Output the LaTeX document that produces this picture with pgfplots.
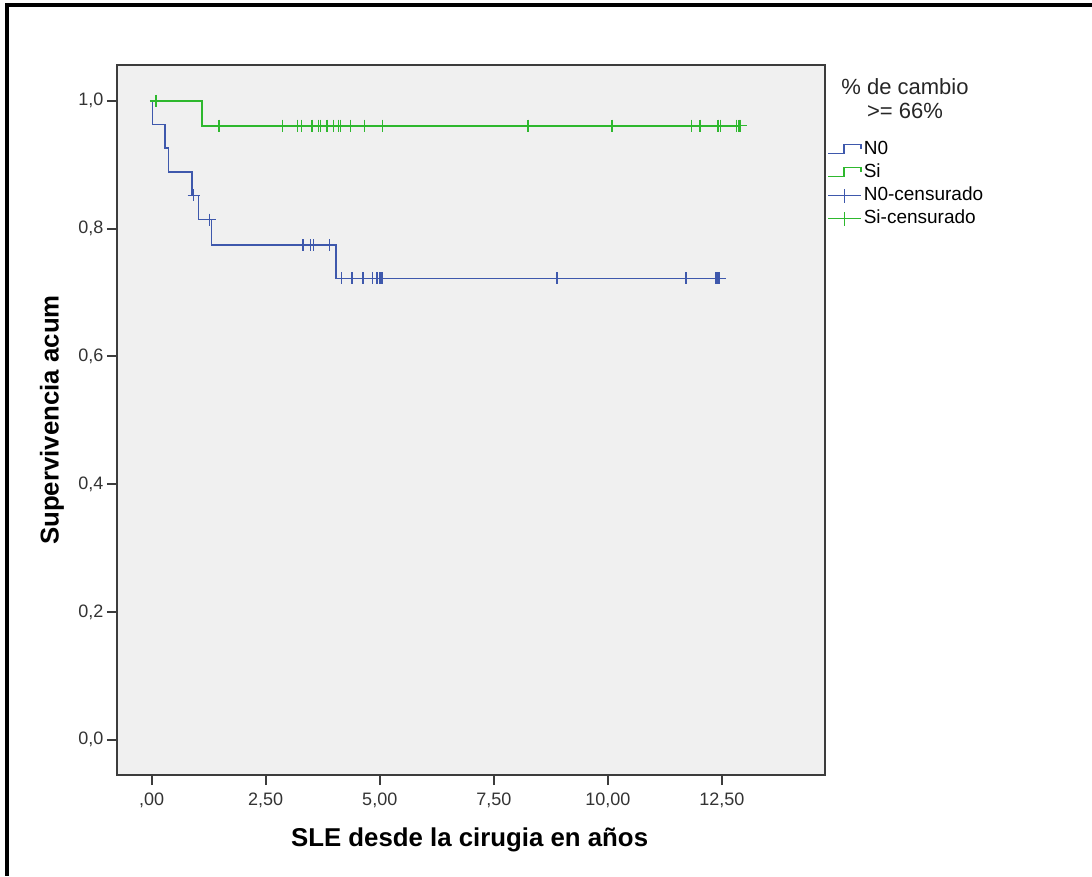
\documentclass[border=0pt]{standalone}
\usepackage{fontspec}
\setmainfont{Liberation Sans}
\usepackage{pgfplots}
\pgfplotsset{compat=1.18}
\definecolor{spssblue}{RGB}{62,88,172}
\definecolor{spssgreen}{RGB}{46,184,46}
\definecolor{spssbg}{RGB}{240,240,240}
\definecolor{axgray}{RGB}{60,60,60}
\pgfplotsset{
  steplegend/.style={legend image code/.code={\draw[##1] (0pt,-4pt) -- (16pt,-4pt) -- (16pt,5pt) -- (33pt,5pt) -- (33pt,1pt);}},
  censlegend/.style={legend image code/.code={\draw[##1, line width=1.5pt] (0pt,0pt) -- (33pt,0pt); \draw[##1, line width=1.5pt] (16.5pt,-7pt) -- (16.5pt,7pt);}},
}
\begin{document}
\begin{tikzpicture}[x=1pt,y=1pt]
\path[use as bounding box] (0,0) rectangle (1092,876);
\fill[black] (5,0) rectangle (8.5,873);
\fill[black] (5,869) rectangle (1092,873);
\begin{axis}[
  at={(117pt,101pt)}, anchor=south west,
  scale only axis, width=708pt, height=710pt,
  xmin=-0.76, xmax=14.76, ymin=-0.055, ymax=1.056,
  axis background/.style={fill=spssbg},
  axis line style={axgray, line width=2pt},
  xtick={0,2.5,5,7.5,10,12.5},
  xticklabels={{,00},{2,50},{5,00},{7,50},{10,00},{12,50}},
  ytick={0,0.2,0.4,0.6,0.8,1.0},
  yticklabels={{0,0},{0,2},{0,4},{0,6},{0,8},{1,0}},
  tick align=outside, major tick length=10pt,
  tick style={axgray, line width=2pt},
  xtick pos=bottom, ytick pos=left,
  ticklabel style={font=\fontsize{18}{20}\selectfont, text=black!80},
  xticklabel style={yshift=-4pt},
  xlabel={SLE desde la cirugia en años},
  ylabel={Supervivencia acum},
  label style={font=\fontsize{25.8}{30}\selectfont\bfseries},
  xlabel style={at={(axis description cs:0.498,-0.0915)}, anchor=center},
  ylabel style={at={(axis description cs:-0.0918,0.5)}, anchor=center},
  legend style={at={(rel axis cs:1,0.8944)}, anchor=north west, xshift=2pt,
    draw=none, fill=none, inner sep=0pt, row sep=4pt,
    font=\fontsize{19}{21}\selectfont,
    nodes={inner xsep=2pt, inner ysep=0pt, text height=14pt, text depth=5pt}},
  legend cell align=left,
  clip=false,
]
% N0 survival curve
\addplot[spssblue, line width=1.6pt, const plot, steplegend]
  coordinates {(0,1) (0.02,0.963) (0.29,0.926) (0.37,0.889) (0.88,0.852) (1.03,0.814) (1.31,0.774) (4.04,0.722) (12.45,0.722)};
\addlegendentry{N0}
% Si survival curve
\addplot[spssgreen, line width=1.6pt, const plot, steplegend]
  coordinates {(0,1) (1.10,0.961) (12.91,0.961)};
\addlegendentry{Si}
% N0 censored
\addplot[spssblue, only marks, mark=+, mark size=6pt, mark options={line width=1.5pt}, censlegend]
  coordinates {(0.92,0.852) (1.27,0.814)
   (3.32,0.774) (3.48,0.774) (3.55,0.774) (3.90,0.774)
   (4.16,0.722) (4.39,0.722) (4.63,0.722) (4.84,0.722) (4.94,0.722) (5.00,0.722) (5.05,0.722)
   (8.88,0.722) (11.71,0.722) (12.37,0.722) (12.41,0.722) (12.45,0.722)};
\addlegendentry{N0-censurado}
% Si censored
\addplot[spssgreen, only marks, mark=+, mark size=6pt, mark options={line width=1.5pt}, censlegend]
  coordinates {(0.09,1.0)
   (1.48,0.961) (2.87,0.961) (3.20,0.961) (3.28,0.961) (3.52,0.961) (3.66,0.961) (3.70,0.961)
   (3.84,0.961) (3.99,0.961) (4.10,0.961) (4.14,0.961) (4.36,0.961) (4.66,0.961) (5.06,0.961)
   (8.25,0.961) (10.09,0.961) (11.83,0.961) (12.02,0.961) (12.41,0.961) (12.47,0.961)
   (12.82,0.961) (12.87,0.961) (12.91,0.961)};
\addlegendentry{Si-censurado}
\end{axis}
\node[font=\fontsize{22}{24}\selectfont, text=black!85, align=center, anchor=center] at (905,876-99)
  {\% de cambio\\>= 66\%};
\end{tikzpicture}
\end{document}
